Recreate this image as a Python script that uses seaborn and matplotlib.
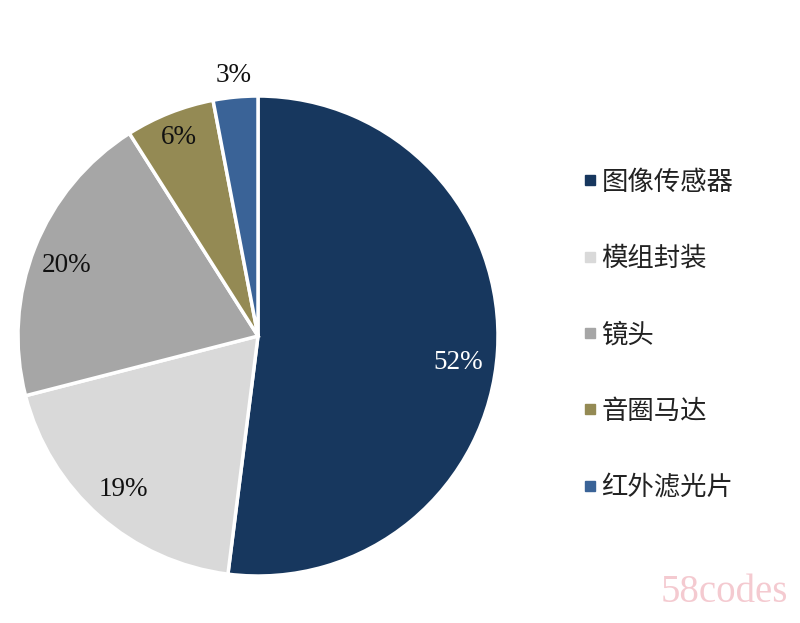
import numpy as np
import matplotlib
matplotlib.use("Agg")
import matplotlib.pyplot as plt
from matplotlib.lines import Line2D
import seaborn as sns

categories = ["图像传感器", "模组封装", "镜头", "音圈马达", "红外滤光片"]
values = [52, 19, 20, 6, 3]
colors = ["#17375E", "#D9D9D9", "#A6A6A6", "#948A54", "#3A6397"]
label_colors = ["white", "#111111", "#111111", "#111111", "#111111"]

sns.set_theme(style="white")
plt.rcParams['font.family'] = ['Noto Sans CJK SC', 'DejaVu Sans']

palette = sns.color_palette(colors)

fig = plt.figure(figsize=(8, 6.23), dpi=100)
ax = fig.add_axes([0.0225, 0.0754, 0.6, 0.7705])

wedges, texts = ax.pie(values, colors=palette, startangle=90, counterclock=False,
                       radius=1.0,
                       wedgeprops=dict(edgecolor="white", linewidth=2.5))
ax.set_xlim(-1, 1)
ax.set_ylim(-1, 1)
ax.set_aspect("equal")
ax.axis("off")

# percentage labels
dists = [0.84, 0.85, 0.85, 0.89, 1.09]
angle_shift = [-4.0, 0, 1.5, 0, 0]
for w, v, c, d, s in zip(wedges, values, label_colors, dists, angle_shift):
    ang = np.deg2rad((w.theta1 + w.theta2) / 2 + s)
    ax.text(d * np.cos(ang), d * np.sin(ang), f"{v}%", ha="center", va="center",
            color=c, fontsize=19.5, family=["Liberation Serif"], clip_on=False)

handles = [Line2D([0], [0], marker="s", linestyle="none", markersize=7,
                  markerfacecolor=col, markeredgecolor=col) for col in colors]
leg = fig.legend(handles, categories, loc="center left",
                 bbox_to_anchor=(0.694, 0.4625), frameon=False,
                 fontsize=19, labelspacing=1.87, handletextpad=0.05,
                 handlelength=0.8)
for t in leg.get_texts():
    t.set_color("#222222")

fig.text(0.985, 0.02, "58codes", ha="right", va="bottom", fontsize=28,
         color="#E88A98", alpha=0.45, family=["Liberation Serif"])

fig.savefig("out.png", dpi=100)
